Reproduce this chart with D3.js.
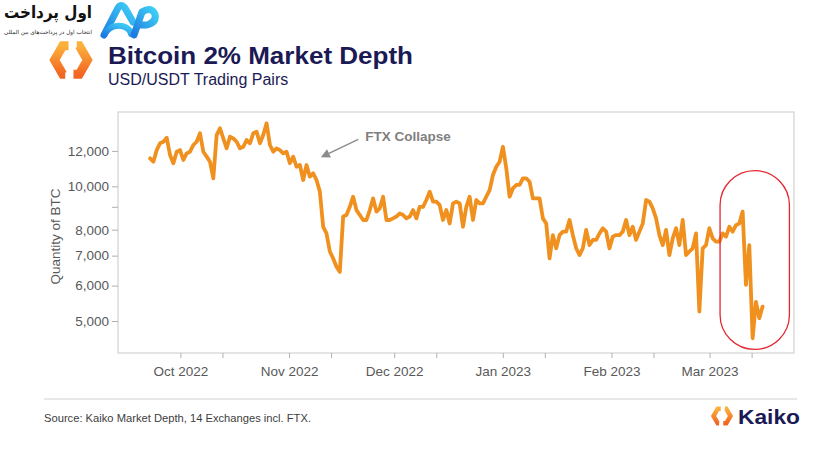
<!DOCTYPE html>
<html><head><meta charset="utf-8">
<script src="https://cdn.jsdelivr.net/npm/d3@7"></script>
<style>
body{margin:0;background:#fff;}
svg{display:block;font-family:"Liberation Sans",Arial,sans-serif;}
</style>
</head><body>
<svg id="chart" width="826" height="449"></svg>
<script>
// ---- data ----
const depthValues = [
 11550,11350,12050,12480,12580,12840,11750,11260,11950,12050,
 11450,11850,11950,12370,12580,13140,11950,11650,11350,10420,
 13020,13480,12800,12160,12910,12800,12580,12160,12260,12690,
 12480,13140,13240,12480,13020,13830,12370,11950,12160,12050,
 11850,11950,11260,11650,11060,11160,10330,11160,10510,10690,
 10330,9730,8120,7850,7150,6900,6610,6440,8560,8630,
 9000,9480,8850,8630,8410,8410,8850,9400,8780,8930,
 9480,8410,8410,8480,8560,8700,8630,8480,8560,8850,
 8480,9000,9000,9320,9730,9240,9240,9080,8410,8850,
 8260,9160,9240,9160,8120,9000,9480,8410,9320,9160,
 9160,9480,9810,10600,11060,11350,12260,10970,9480,9900,
 10070,10070,10420,10420,10240,9400,9400,9400,8480,8260,
 6900,7780,7270,7780,7920,7920,8410,7780,7270,7020,
 7270,7990,7390,7590,7590,7850,8060,7920,7270,7720,
 7780,7780,7920,8410,7780,8120,7590,7920,8260,9320,
 9240,8930,8480,7780,7390,7990,7020,7650,8060,7390,
 8410,7020,7150,7270,7850,5250,7270,7390,8060,7650,
 7520,7520,7850,7720,8120,7920,8190,8260,8780,6020,
 7390,4575,5520,5075,5385
];
const seriesStart = new Date(2022, 8, 22, 8, 10);   // first observation
const stepHours = 22.8;                             // sampling interval

const xDomain = [new Date(2022, 8, 13, 4, 34), new Date(2023, 2, 25, 2, 24)];
const yDomain = [4241, 14660];

const monthTickDates = ["2022-10-01","2022-11-01","2022-12-01","2023-01-01","2023-02-01","2023-03-01"];
const monthTickLabels = ["Oct 2022","Nov 2022","Dec 2022","Jan 2023","Feb 2023","Mar 2023"];
const minorTickDates = ["2022-10-13","2022-11-13","2022-12-13","2023-01-13","2023-02-13","2023-03-13"];

const yTickValues = [5000, 6000, 7000, 8000, 9000, 10000, 12000];
const yTickLabels = ["5,000","6,000","7,000","8,000","","10,000","12,000"];

const annotation = {text: "FTX Collapse", tip: [new Date(2022,10,10,2), 11610], tail: [new Date(2022,10,20,18), 12736]};
const highlight = {x0: new Date(2023,2,4,0), x1: new Date(2023,2,23,19), hi: 10840, lo: 4320};

// ---- layout ----
const plot = {left: 118, right: 794, top: 112, bottom: 353};
const svg = d3.select("#chart");
const parse = d3.timeParse("%Y-%m-%d");

const data = depthValues.map((v, i) => ({date: new Date(seriesStart.getTime() + i * stepHours * 3600e3), v}));

const x = d3.scaleTime().domain(xDomain).range([plot.left, plot.right]);
const y = d3.scaleLog().domain(yDomain).range([plot.bottom, plot.top]);

// ---- header logo (Persian) ----
const brand = svg.append("g");
brand.append("text").attr("x", 48).attr("y", 18).attr("text-anchor", "middle")
  .attr("font-family", "DejaVu Sans").attr("font-weight", "bold").attr("font-size", 17)
  .attr("textLength", 88).attr("lengthAdjust", "spacingAndGlyphs")
  .attr("fill", "#111").attr("direction", "rtl").text("اول پرداخت");
brand.append("text").attr("x", 48).attr("y", 34).attr("text-anchor", "middle")
  .attr("font-family", "DejaVu Sans").attr("font-size", 5.6)
  .attr("textLength", 88).attr("lengthAdjust", "spacingAndGlyphs")
  .attr("fill", "#222").attr("direction", "rtl").text("انتخاب اول در پرداخت‌های بین المللی");
const defs = svg.append("defs");
const bg = defs.append("linearGradient").attr("id", "blueg").attr("x1", 0).attr("y1", 1).attr("x2", 1).attr("y2", 0);
bg.append("stop").attr("offset", 0).attr("stop-color", "#1f7be0");
bg.append("stop").attr("offset", 1).attr("stop-color", "#3fd0f7");
brand.append("path").attr("d", "M104,35 L118,8 Q121,3 125,8 L133,22")
  .attr("fill", "none").attr("stroke", "url(#blueg)").attr("stroke-width", 7).attr("stroke-linecap", "round");
brand.append("path").attr("d", "M104,35 Q110,24 122,26 Q130,28 131,34")
  .attr("fill", "none").attr("stroke", "url(#blueg)").attr("stroke-width", 6).attr("stroke-linecap", "round");
brand.append("path").attr("d", "M134,35 L142,12 Q151,6 155,14 Q157,22 147,25 L138,25")
  .attr("fill", "none").attr("stroke", "url(#blueg)").attr("stroke-width", 7).attr("stroke-linecap", "round").attr("stroke-linejoin", "round");

// ---- Kaiko-style hexagon logo ----
const og = defs.append("linearGradient").attr("id", "orng").attr("x1", 0).attr("y1", 0).attr("x2", 0).attr("y2", 1);
og.append("stop").attr("offset", 0).attr("stop-color", "#fbb13c");
og.append("stop").attr("offset", 1).attr("stop-color", "#f26522");
function hexLogo(cx, cy, R, sw) {
  const g = svg.append("g");
  const p = a => [cx + R * Math.cos(a * Math.PI / 180), cy + R * Math.sin(a * Math.PI / 180)];
  const mid = (a, b, t) => [a[0] + (b[0] - a[0]) * t, a[1] + (b[1] - a[1]) * t];
  const ul = p(240), l = p(180), ll = p(120), lr = p(60), r = p(0), ur = p(300);
  const left = [mid(ul, ur, 0.35), ul, l, ll, mid(ll, lr, 0.15)];
  const right = [mid(ur, ul, 0.15), ur, r, lr, mid(lr, ll, 0.35)];
  [left, right].forEach(pts => g.append("path").attr("d", d3.line()(pts))
    .attr("fill", "none").attr("stroke", "url(#orng)").attr("stroke-width", sw).attr("stroke-linejoin", "miter"));
  return g;
}
hexLogo(71, 60, 16.5, 9);
hexLogo(722, 416, 8.5, 4.5);

// ---- titles ----
svg.append("text").attr("x", 108).attr("y", 64).attr("font-size", 24).attr("font-weight", "bold")
  .attr("fill", "#1b1a55").attr("textLength", 305).attr("lengthAdjust", "spacingAndGlyphs")
  .text("Bitcoin 2% Market Depth");
svg.append("text").attr("x", 108).attr("y", 85).attr("font-size", 16)
  .attr("fill", "#1b1a55").text("USD/USDT Trading Pairs");

// ---- frame ----
svg.append("rect").attr("x", plot.left).attr("y", plot.top)
  .attr("width", plot.right - plot.left).attr("height", plot.bottom - plot.top)
  .attr("fill", "none").attr("stroke", "#c9c9c9").attr("stroke-width", 1);

// ---- axes ----
const yAxis = d3.axisLeft(y).tickValues(yTickValues).tickSize(6).tickPadding(3)
  .tickFormat((d, i) => yTickLabels[i]);
const gy = svg.append("g").attr("transform", `translate(${plot.left},0)`).call(yAxis);
gy.select(".domain").remove();
gy.selectAll("line").attr("stroke", "#b0b0b0");
gy.selectAll("text").attr("font-size", 13.5).attr("fill", "#595959").attr("font-family", "Liberation Sans, Arial, sans-serif");

const xAxis = d3.axisBottom(x).tickValues(monthTickDates.map(parse)).tickSize(5).tickPadding(8)
  .tickFormat((d, i) => monthTickLabels[i]);
const gx = svg.append("g").attr("transform", `translate(0,${plot.bottom})`).call(xAxis);
gx.select(".domain").remove();
gx.selectAll("line").attr("stroke", "#b0b0b0");
gx.selectAll("text").attr("font-size", 13.5).attr("fill", "#595959").attr("font-family", "Liberation Sans, Arial, sans-serif");
const xMinor = d3.axisBottom(x).tickValues(minorTickDates.map(parse)).tickSize(5).tickFormat("");
const gxm = svg.append("g").attr("transform", `translate(0,${plot.bottom})`).call(xMinor);
gxm.select(".domain").remove();
gxm.selectAll("line").attr("stroke", "#b0b0b0");

svg.append("text").attr("transform", `translate(60,${(plot.top + plot.bottom) / 2 + 4}) rotate(-90)`)
  .attr("text-anchor", "middle").attr("font-size", 13.5).attr("fill", "#595959")
  .text("Quantity of BTC");

// ---- series ----
const line = d3.line().x(d => x(d.date)).y(d => y(d.v));
svg.append("path").datum(data).attr("d", line)
  .attr("fill", "none").attr("stroke", "#f0901e").attr("stroke-width", 3.8)
  .attr("stroke-linejoin", "round").attr("stroke-linecap", "round");

// ---- highlight ----
const hx0 = x(highlight.x0), hx1 = x(highlight.x1), hy0 = y(highlight.hi), hy1 = y(highlight.lo);
svg.append("rect").attr("x", hx0).attr("y", hy0).attr("width", hx1 - hx0).attr("height", hy1 - hy0)
  .attr("rx", (hx1 - hx0) / 2).attr("ry", (hx1 - hx0) / 2)
  .attr("fill", "none").attr("stroke", "#e3262f").attr("stroke-width", 1.3);

// ---- annotation ----
const tx = x(annotation.tip[0]), ty = y(annotation.tip[1]);
const sx = x(annotation.tail[0]), sy = y(annotation.tail[1]);
const ang = Math.atan2(ty - sy, tx - sx);
const hl = 9, hw = 4.5;
const bx = tx - hl * Math.cos(ang), by = ty - hl * Math.sin(ang);
svg.append("line").attr("x1", sx).attr("y1", sy).attr("x2", bx).attr("y2", by)
  .attr("stroke", "#8c8c8c").attr("stroke-width", 1.5);
svg.append("path").attr("d", d3.line()([[tx, ty],
  [bx + hw * Math.sin(ang), by - hw * Math.cos(ang)],
  [bx - hw * Math.sin(ang), by + hw * Math.cos(ang)]]) + "Z").attr("fill", "#8c8c8c");
svg.append("text").attr("x", sx + 7).attr("y", sy - 1.5).attr("dominant-baseline", "middle")
  .attr("font-size", 13.5).attr("font-weight", "bold").attr("fill", "#7f7f7f").text(annotation.text);

// ---- footer ----
svg.append("line").attr("x1", 44).attr("x2", 797).attr("y1", 399).attr("y2", 399)
  .attr("stroke", "#d0d0d0").attr("stroke-width", 1);
svg.append("text").attr("x", 44).attr("y", 422).attr("font-size", 11).attr("fill", "#404040")
  .attr("textLength", 267).attr("lengthAdjust", "spacingAndGlyphs")
  .text("Source: Kaiko Market Depth, 14 Exchanges incl. FTX.");
svg.append("text").attr("x", 738).attr("y", 423.5).attr("font-size", 21).attr("font-weight", "bold")
  .attr("fill", "#1b1a55").attr("textLength", 62).attr("lengthAdjust", "spacingAndGlyphs").text("Kaiko");
</script>
</body></html>
